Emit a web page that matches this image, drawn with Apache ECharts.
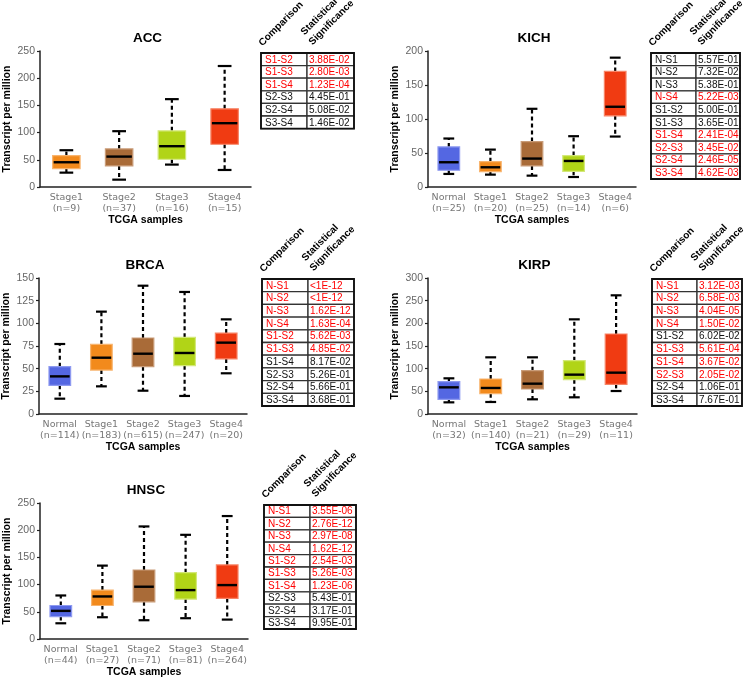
<!DOCTYPE html>
<html>
<head>
<meta charset="utf-8">
<script src="https://cdn.jsdelivr.net/npm/echarts@6/dist/echarts.min.js"></script>
<style>html,body{margin:0;padding:0;background:#fff;}#chart{width:750px;height:679px;}</style>
</head>
<body>
<div id="chart"></div>
<script>
// ---------------- DATA ----------------
// box values: [min, Q1, median, Q3, max]
const accStages = ['Stage1', 'Stage2', 'Stage3', 'Stage4'];
const accCounts = [9, 37, 16, 15];
const accBoxes = [[26.4, 33.8, 45.5, 57.7, 67.6], [13.5, 38.7, 55.9, 70, 102.6], [41.2, 51, 75, 103.2, 161.5], [31.3, 78.6, 117.3, 143.7, 222.4]];
const accYTicks = [0, 50, 100, 150, 200, 250];
const accComparisons = ['S1-S2', 'S1-S3', 'S1-S4', 'S2-S3', 'S2-S4', 'S3-S4'];
const accPValues = ['3.88E-02', '2.80E-03', '1.23E-04', '4.45E-01', '5.08E-02', '1.46E-02'];
const accSignificant = [true, true, true, false, false, false];

const kichStages = ['Normal', 'Stage1', 'Stage2', 'Stage3', 'Stage4'];
const kichCounts = [25, 20, 25, 14, 6];
const kichBoxes = [[19.2, 24.6, 36.4, 59, 71.3], [18.2, 22.6, 29, 37.3, 55], [16.7, 31, 41.8, 66.8, 115], [14.7, 23.1, 38.3, 46.2, 74.7], [74.2, 104.7, 118, 170, 190.2]];
const kichYTicks = [0, 50, 100, 150, 200];
const nsComparisons = ['N-S1', 'N-S2', 'N-S3', 'N-S4', 'S1-S2', 'S1-S3', 'S1-S4', 'S2-S3', 'S2-S4', 'S3-S4'];
const kichPValues = ['5.57E-01', '7.32E-02', '5.38E-01', '5.22E-03', '5.00E-01', '3.65E-01', '2.41E-04', '3.45E-02', '2.46E-05', '4.62E-03'];
const kichSignificant = [false, false, false, true, false, false, true, true, true, true];

const brcaStages = ['Normal', 'Stage1', 'Stage2', 'Stage3', 'Stage4'];
const brcaCounts = [114, 183, 615, 247, 20];
const brcaBoxes = [[16.9, 31.6, 41.5, 52.2, 77.2], [30.5, 48.5, 62.1, 76.8, 112.9], [25.7, 52.2, 66.5, 83.8, 141.5], [19.9, 53.3, 67.3, 84.6, 134.6], [44.9, 60.7, 78.7, 89.3, 104.4]];
const brcaYTicks = [0, 25, 50, 75, 100, 125, 150];
const brcaPValues = ['<1E-12', '<1E-12', '1.62E-12', '1.63E-04', '5.62E-03', '4.85E-02', '8.17E-02', '5.26E-01', '5.66E-01', '3.68E-01'];
const brcaSignificant = [true, true, true, true, true, true, false, false, false, false];

const kirpStages = ['Normal', 'Stage1', 'Stage2', 'Stage3', 'Stage4'];
const kirpCounts = [32, 140, 21, 29, 11];
const kirpBoxes = [[25.7, 32.4, 58.8, 71.3, 78.7], [26.5, 44.9, 57.4, 77.2, 125], [32.4, 55.1, 66.9, 95.6, 125], [36.8, 75.7, 86.8, 117.6, 208.8], [50.7, 65.4, 91.2, 176.5, 261.8]];
const kirpYTicks = [0, 50, 100, 150, 200, 250, 300];
const kirpPValues = ['3.12E-03', '6.58E-03', '4.04E-05', '1.50E-02', '6.02E-02', '5.61E-04', '3.67E-02', '2.05E-02', '1.06E-01', '7.67E-01'];
const kirpSignificant = [true, true, true, true, false, true, true, true, false, false];

const hnscStages = ['Normal', 'Stage1', 'Stage2', 'Stage3', 'Stage4'];
const hnscCounts = [44, 27, 71, 81, 264];
const hnscBoxes = [[28.9, 41.3, 51.7, 61.6, 80], [40, 61.6, 78.2, 89.9, 134.9], [34.5, 68.3, 96.1, 126.8, 206.9], [38.2, 73.3, 89.9, 121.9, 191.5], [35.7, 74.5, 99.1, 136.1, 226]];
const hnscYTicks = [0, 50, 100, 150, 200, 250];
const hnscPValues = ['3.55E-06', '2.76E-12', '2.97E-08', '1.62E-12', '2.54E-03', '5.26E-03', '1.23E-06', '5.43E-01', '3.17E-01', '9.95E-01'];
const hnscSignificant = [true, true, true, true, true, true, true, false, false, false];

// ---------------- STYLE / LAYOUT ----------------
const fillColors = { Normal: '#5467E2', Stage1: '#F28A1C', Stage2: '#A96B38', Stage3: '#B1D417', Stage4: '#F03B12' };
const edgeColors = { Normal: '#8E9AF0', Stage1: '#F8B46E', Stage2: '#C99C78', Stage3: '#D3E879', Stage4: '#F78466' };
const LS = '"Liberation Sans", Arial, sans-serif';
const DV = '"DejaVu Sans", Verdana, sans-serif';

const panels = [
  { name: 'ACC', stages: accStages, counts: accCounts, boxes: accBoxes, ticks: accYTicks, grid: { left: 40, top: 51, width: 211, height: 136 },
    table: { comps: accComparisons, pvals: accPValues, sig: accSignificant, x0: 261, xd: 307, x1: 354, top: 53, rowH: 12.6 } },
  { name: 'KICH', stages: kichStages, counts: kichCounts, boxes: kichBoxes, ticks: kichYTicks, grid: { left: 428, top: 51, width: 208, height: 136 },
    table: { comps: nsComparisons, pvals: kichPValues, sig: kichSignificant, x0: 651, xd: 696, x1: 740, top: 53, rowH: 12.6 } },
  { name: 'BRCA', stages: brcaStages, counts: brcaCounts, boxes: brcaBoxes, ticks: brcaYTicks, grid: { left: 39, top: 278, width: 208, height: 136 },
    table: { comps: nsComparisons, pvals: brcaPValues, sig: brcaSignificant, x0: 262, xd: 308, x1: 354, top: 279, rowH: 12.7 } },
  { name: 'KIRP', stages: kirpStages, counts: kirpCounts, boxes: kirpBoxes, ticks: kirpYTicks, grid: { left: 428, top: 278, width: 209, height: 136 },
    table: { comps: nsComparisons, pvals: kirpPValues, sig: kirpSignificant, x0: 652, xd: 697, x1: 742, top: 279, rowH: 12.7 } },
  { name: 'HNSC', stages: hnscStages, counts: hnscCounts, boxes: hnscBoxes, ticks: hnscYTicks, grid: { left: 40, top: 503, width: 208, height: 136 },
    table: { comps: nsComparisons, pvals: hnscPValues, sig: hnscSignificant, x0: 264, xd: 310, x1: 356, top: 505, rowH: 12.4 } }
];

function makeRender(stages) {
  return function (params, api) {
    const idx = api.value(0);
    const vMin = api.value(1), vQ1 = api.value(2), vMed = api.value(3), vQ3 = api.value(4), vMax = api.value(5);
    const band = api.size([1, 0])[0];
    const boxW = band * 0.52;
    const capW = band * 0.26;
    const x = api.coord([idx, vMin])[0];
    const yMin = api.coord([idx, vMin])[1];
    const yQ1 = api.coord([idx, vQ1])[1];
    const yMed = api.coord([idx, vMed])[1];
    const yQ3 = api.coord([idx, vQ3])[1];
    const yMax = api.coord([idx, vMax])[1];
    const st = stages[idx];
    const dashStyle = { stroke: '#000', lineWidth: 2.2, lineDash: [4, 3] };
    const capStyle = { stroke: '#000', lineWidth: 2.2 };
    return {
      type: 'group',
      children: [
        { type: 'line', shape: { x1: x, y1: yQ3, x2: x, y2: yMax }, style: dashStyle },
        { type: 'line', shape: { x1: x, y1: yQ1, x2: x, y2: yMin }, style: dashStyle },
        { type: 'line', shape: { x1: x - capW / 2, y1: yMax, x2: x + capW / 2, y2: yMax }, style: capStyle },
        { type: 'line', shape: { x1: x - capW / 2, y1: yMin, x2: x + capW / 2, y2: yMin }, style: capStyle },
        { type: 'rect', shape: { x: x - boxW / 2, y: yQ3, width: boxW, height: yQ1 - yQ3 }, style: { fill: fillColors[st], stroke: edgeColors[st], lineWidth: 1.2 } },
        { type: 'line', shape: { x1: x - boxW / 2 + 1, y1: yMed, x2: x + boxW / 2 - 1, y2: yMed }, style: { stroke: '#000', lineWidth: 2.4 } }
      ]
    };
  };
}

const grids = [], xAxes = [], yAxes = [], series = [], graphics = [];
panels.forEach(function (p, i) {
  grids.push(p.grid);
  xAxes.push({
    type: 'category', gridIndex: i,
    data: p.stages.map(function (s, k) { return s + '\n(n=' + p.counts[k] + ')'; }),
    boundaryGap: true,
    axisLine: { show: true, lineStyle: { color: '#222', width: 1.5 } },
    axisTick: { show: false },
    axisLabel: { color: '#777', fontFamily: DV, fontSize: 9.5, lineHeight: 11, margin: 5, interval: 0 },
    name: 'TCGA samples', nameLocation: 'middle', nameGap: 27,
    nameTextStyle: { fontFamily: LS, fontWeight: 'bold', fontSize: 10.5, color: '#000' },
    splitLine: { show: false }
  });
  const t = p.ticks;
  yAxes.push({
    type: 'value', gridIndex: i,
    min: t[0], max: t[t.length - 1], interval: t[1] - t[0],
    axisLine: { show: true, lineStyle: { color: '#222', width: 1.5 } },
    axisTick: { show: true, length: 3, lineStyle: { color: '#222', width: 1.2 } },
    axisLabel: { color: '#666', fontFamily: LS, fontSize: 10.5, margin: 5 },
    splitLine: { show: false },
    name: 'Transcript per million', nameLocation: 'middle', nameGap: 27,
    nameTextStyle: { fontFamily: LS, fontWeight: 'bold', fontSize: 10.5, color: '#000' }
  });
  series.push({
    type: 'custom', xAxisIndex: i, yAxisIndex: i,
    renderItem: makeRender(p.stages),
    encode: { x: 0, y: [1, 2, 3, 4, 5] },
    data: p.boxes.map(function (b, k) { return [k].concat(b); }),
    silent: true
  });
  // title
  graphics.push({
    type: 'text', x: p.grid.left + p.grid.width / 2 + 2, y: p.grid.top - 13,
    style: { text: p.name, font: 'bold 13.5px ' + LS, fill: '#000', align: 'center', verticalAlign: 'middle', textAlign: 'center', textVerticalAlign: 'middle' }
  });
  // table
  const tb = p.table;
  const n = tb.comps.length;
  for (let r = 0; r < n; r++) {
    const y = tb.top + r * tb.rowH;
    const col = tb.sig[r] ? '#FF0000' : '#111';
    graphics.push({ type: 'rect', shape: { x: tb.x0, y: y, width: tb.xd - tb.x0, height: tb.rowH }, style: { fill: '#fff', stroke: '#333', lineWidth: 1.3 } });
    graphics.push({ type: 'rect', shape: { x: tb.xd, y: y, width: tb.x1 - tb.xd, height: tb.rowH }, style: { fill: '#fff', stroke: '#333', lineWidth: 1.3 } });
    graphics.push({ type: 'text', x: tb.x0 + 4, y: y + tb.rowH / 2 + 0.5, style: { text: tb.comps[r], font: '10px ' + LS, fill: col, align: 'left', verticalAlign: 'middle', textAlign: 'left', textVerticalAlign: 'middle' } });
    graphics.push({ type: 'text', x: tb.xd + 2, y: y + tb.rowH / 2 + 0.5, style: { text: tb.pvals[r], font: '10px ' + LS, fill: col, align: 'left', verticalAlign: 'middle', textAlign: 'left', textVerticalAlign: 'middle' } });
  }
  graphics.push({ type: 'rect', shape: { x: tb.x0, y: tb.top, width: tb.x1 - tb.x0, height: n * tb.rowH }, style: { fill: 'none', stroke: '#111', lineWidth: 1.8 } });
  const hdrFont = 'bold 10px ' + LS;
  graphics.push({ type: 'text', x: tb.x0 + 3, y: tb.top - 5, rotation: Math.PI / 4, style: { text: 'Comparison', font: hdrFont, fill: '#000', align: 'left', verticalAlign: 'bottom', textAlign: 'left', textVerticalAlign: 'bottom' } });
  graphics.push({ type: 'text', x: tb.xd - 1, y: tb.top - 16, rotation: Math.PI / 4, style: { text: 'Statistical', font: hdrFont, fill: '#000', align: 'left', verticalAlign: 'bottom', textAlign: 'left', textVerticalAlign: 'bottom' } });
  graphics.push({ type: 'text', x: tb.xd + 7, y: tb.top - 6, rotation: Math.PI / 4, style: { text: 'Significance', font: hdrFont, fill: '#000', align: 'left', verticalAlign: 'bottom', textAlign: 'left', textVerticalAlign: 'bottom' } });
});

const chart = echarts.init(document.getElementById('chart'), null, { renderer: 'canvas' });
chart.setOption({
  animation: false,
  backgroundColor: '#fff',
  grid: grids,
  xAxis: xAxes,
  yAxis: yAxes,
  series: series,
  graphic: graphics
});
</script>
</body>
</html>
